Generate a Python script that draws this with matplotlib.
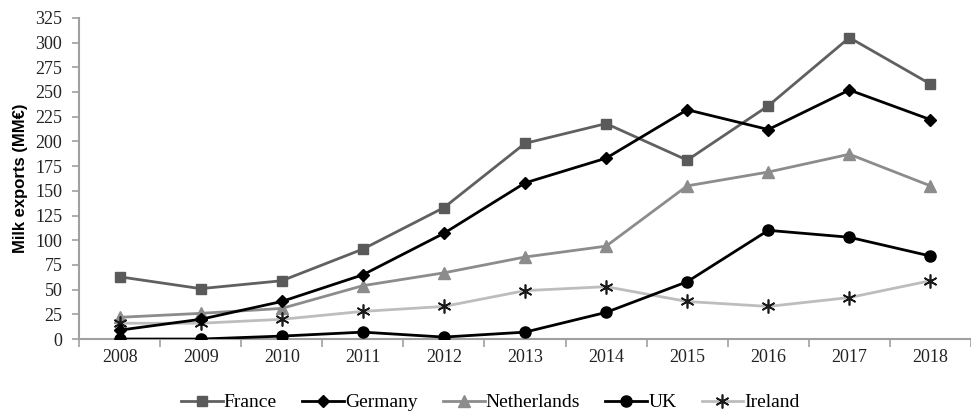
import matplotlib
matplotlib.use("Agg")
import matplotlib.pyplot as plt
import numpy as np

years = ["2008", "2009", "2010", "2011", "2012", "2013", "2014", "2015", "2016", "2017", "2018"]
france = [63, 51, 59, 91, 133, 198, 218, 181, 236, 305, 258]
germany = [9, 20, 38, 65, 107, 158, 183, 232, 212, 252, 222]
netherlands = [22, 26, 31, 54, 67, 83, 94, 155, 169, 187, 155]
uk = [0, 0, 3, 7, 2, 7, 27, 58, 110, 103, 84]
ireland = [16, 16, 20, 28, 33, 49, 53, 38, 33, 42, 59]
yticks = list(range(0, 326, 25))

serif = ["Liberation Serif", "DejaVu Serif"]

fig = plt.figure(figsize=(9.71, 4.15), dpi=100)
ax = fig.add_axes([0.0814, 0.183, 0.9186, 0.774])
x = np.arange(len(years))

ax.plot(x, france, color="#606060", lw=2, marker="s", ms=7.5, mfc="#5a5a5a", mec="#5a5a5a", label="France", zorder=3)
ax.plot(x, germany, color="#000000", lw=2, marker="D", ms=6, mfc="#000000", mec="#000000", label="Germany", zorder=4)
ax.plot(x, netherlands, color="#8c8c8c", lw=2, marker="^", ms=9, mfc="#8c8c8c", mec="#8c8c8c", label="Netherlands", zorder=3)
ax.plot(x, uk, color="#000000", lw=2, marker="o", ms=8, mfc="#000000", mec="#000000", label="UK", zorder=4)
ax.plot(x, ireland, color="#bdbdbd", lw=2, marker=(6, 2, 0), ms=10, mfc="#1a1a1a", mec="#1a1a1a", mew=1.2, label="Ireland", zorder=3)

ax.set_xlim(-0.5, len(years) - 0.5)
ax.set_ylim(0, 325)
ax.set_yticks(yticks)
ax.set_yticklabels([str(v) for v in yticks], fontfamily=serif, fontsize=13)
ax.set_xticks(x)
ax.set_xticklabels(years, fontfamily=serif, fontsize=13)
ax.tick_params(axis="x", which="major", length=0, pad=7)
ax.set_xticks(np.arange(-0.5, len(years) + 0.5, 1), minor=True)
ax.tick_params(axis="x", which="minor", length=6, color="#a0a0a0", width=1.2, direction="out")
ax.tick_params(axis="y", length=5, color="#a0a0a0", width=1.2, pad=7, labelcolor="#222222")
ax.tick_params(axis="x", labelcolor="#222222")

for s in ["top", "right"]:
    ax.spines[s].set_visible(False)
for s in ["left", "bottom"]:
    ax.spines[s].set_color("#a0a0a0")
    ax.spines[s].set_linewidth(1.5)

ax.set_ylabel("Milk exports (MM€)", fontfamily=["Liberation Sans", "DejaVu Sans"], fontweight="bold", fontsize=12, labelpad=5)

leg = fig.legend(loc="center", bbox_to_anchor=(0.505, 0.03), ncol=5, frameon=False,
                 prop={"family": serif, "size": 14}, handlelength=2.15, handletextpad=0.05,
                 columnspacing=1.3, borderaxespad=0)

fig.savefig("out.png", dpi=100)
